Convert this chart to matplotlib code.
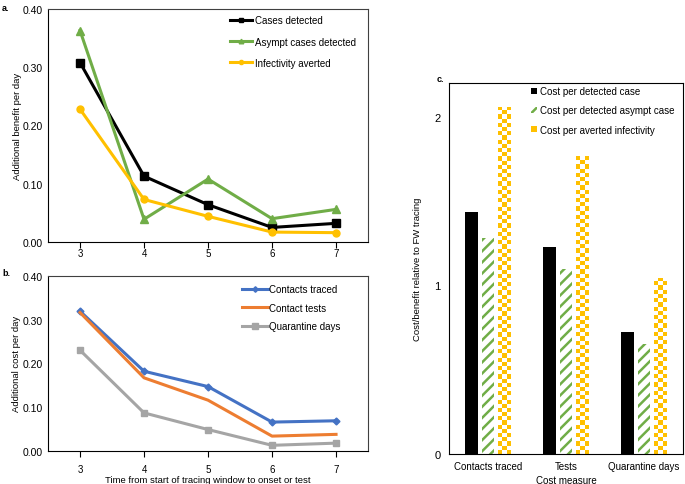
import matplotlib
matplotlib.use("Agg")
import matplotlib.pyplot as plt
import numpy as np
from matplotlib.patches import Patch

plt.rcParams['font.family'] = ['Liberation Sans', 'DejaVu Sans']
plt.rcParams['hatch.linewidth'] = 1.8

# ---- data ----
days = [3, 4, 5, 6, 7]
cases_detected = [0.308, 0.113, 0.064, 0.025, 0.032]
asympt_detected = [0.363, 0.039, 0.108, 0.040, 0.056]
infectivity_averted = [0.228, 0.073, 0.044, 0.017, 0.016]

contacts_traced = [0.319, 0.182, 0.147, 0.066, 0.069]
contact_tests = [0.316, 0.167, 0.116, 0.034, 0.038]
quarantine_days = [0.230, 0.087, 0.049, 0.013, 0.018]

cost_measures = ["Contacts traced", "Tests", "Quarantine days"]
cost_per_case = [1.434, 1.229, 0.726]
cost_per_asympt = [1.282, 1.099, 0.651]
cost_per_infectivity = [2.060, 1.765, 1.046]

BLACK = "#000000"
GREEN = "#70AD47"
YELLOW = "#FFC000"
BLUE = "#4472C4"
ORANGE = "#ED7D31"
GREY = "#A5A5A5"

fig = plt.figure(figsize=(6.85, 4.85), dpi=100)

def style_line_ax(ax, xpad):
    ax.set_xlim(2.5, 7.5)
    ax.set_ylim(0, 0.40)
    ax.set_xticks(days)
    ax.set_xticklabels([str(d) for d in days])
    ax.set_yticks([0, 0.1, 0.2, 0.3, 0.4])
    ax.set_yticklabels(["0.00", "0.10", "0.20", "0.30", "0.40"])
    ax.tick_params(axis='x', direction='out', length=4, width=0.8, labelsize=7, pad=xpad)
    ax.tick_params(axis='y', length=0, labelsize=7.5, pad=4)
    for s in ax.spines.values():
        s.set_linewidth(0.8)
    ax.spines['top'].set_color('#404040')
    ax.spines['right'].set_color('#404040')

# ---- panel a ----
axa = fig.add_axes([0.0701, 0.4990, 0.4672, 0.4804])
axa.plot(days, cases_detected, color=BLACK, lw=2.2, marker='s', ms=5.5, label="Cases detected")
axa.plot(days, asympt_detected, color=GREEN, lw=2.2, marker='^', ms=5.5, label="Asympt cases detected")
axa.plot(days, infectivity_averted, color=YELLOW, lw=2.2, marker='o', ms=5, label="Infectivity averted")
style_line_ax(axa, 0.5)
axa.set_ylabel("Additional benefit per day", fontsize=6.8, labelpad=0)
axa.legend(loc='upper right', bbox_to_anchor=(0.99, 1.01), frameon=False, fontsize=7,
           handlelength=2.3, handletextpad=0.3, labelspacing=1.15, markerscale=0.6)
fig.text(0.003, 0.992, "a.", fontsize=6.5, fontweight='bold', va='top')

# ---- panel b ----
axb = fig.add_axes([0.0701, 0.0680, 0.4672, 0.3615])
axb.plot(days, contacts_traced, color=BLUE, lw=2.2, marker='D', ms=3.5, label="Contacts traced")
axb.plot(days, contact_tests, color=ORANGE, lw=2.2, label="Contact tests")
axb.plot(days, quarantine_days, color=GREY, lw=2.2, marker='s', ms=5, label="Quarantine days")
style_line_ax(axb, 5)
axb.set_ylabel("Additional cost per day", fontsize=6.8, labelpad=1)
axb.set_xlabel("Time from start of tracing window to onset or test", fontsize=6.8, labelpad=1)
axb.legend(loc='upper right', bbox_to_anchor=(0.94, 1.0), frameon=False, fontsize=7,
           handlelength=2.7, handletextpad=0.1, labelspacing=0.85, markerscale=0.8)
fig.text(0.003, 0.445, "b.", fontsize=6.5, fontweight='bold', va='top')

# ---- panel c ----
axc = fig.add_axes([0.6555, 0.0619, 0.3415, 0.7649])
x = np.arange(len(cost_measures))
w = 0.165
off = 0.212
b1 = axc.bar(x - off, cost_per_case, w, color=BLACK, label="Cost per detected case")
b2 = axc.bar(x, cost_per_asympt, w, facecolor='white', edgecolor=GREEN, hatch='///',
             linewidth=0, label="Cost per detected asympt case")
b3 = axc.bar(x + off, cost_per_infectivity, w, color=YELLOW, linewidth=0,
             label="Cost per averted infectivity")
# checkerboard fill for the infectivity bars
yel = np.array([1.0, 0.753, 0.0])
for rect in b3.patches:
    x0, y0 = rect.get_x(), rect.get_y()
    ww, hh = rect.get_width(), rect.get_height()
    nx = 3
    ny = int(round(hh / 2.2 * 371 / 4.2))
    board = (np.add.outer(np.arange(ny), np.arange(nx)) % 2)
    img = np.ones((ny, nx, 3))
    img[board == 0] = yel
    im = axc.imshow(img, extent=(x0, x0 + ww, y0, y0 + hh), origin='lower',
                    interpolation='nearest', aspect='auto', zorder=2)
    im.set_clip_path(rect)
    rect.set_facecolor('none')
axc.set_aspect('auto')
axc.set_xlim(-0.5, 2.5)
axc.set_ylim(0, 2.2)
axc.set_xticks(x)
axc.set_xticklabels(cost_measures)
axc.set_yticks([0, 1, 2])
axc.tick_params(axis='x', length=0, labelsize=7, pad=5)
axc.tick_params(axis='y', length=0, labelsize=8, pad=6)
axc.set_xlabel("Cost measure", fontsize=7, labelpad=3)
axc.set_ylabel("Cost/benefit relative to FW tracing", fontsize=6.8, labelpad=9)
for s in axc.spines.values():
    s.set_linewidth(0.8)
handles = [Patch(facecolor=BLACK),
           Patch(facecolor='white', edgecolor=GREEN, hatch='///', linewidth=0),
           Patch(facecolor=YELLOW, linewidth=0)]
axc.legend(handles, [b1.get_label(), b2.get_label(), b3.get_label()],
           loc='upper right', bbox_to_anchor=(1.0, 1.015), frameon=False, fontsize=7,
           handlelength=0.55, handleheight=0.55, handletextpad=0.3, labelspacing=0.95)
fig.text(0.638, 0.845, "c.", fontsize=6.5, fontweight='bold', va='top')

fig.savefig("out.png", dpi=100)
